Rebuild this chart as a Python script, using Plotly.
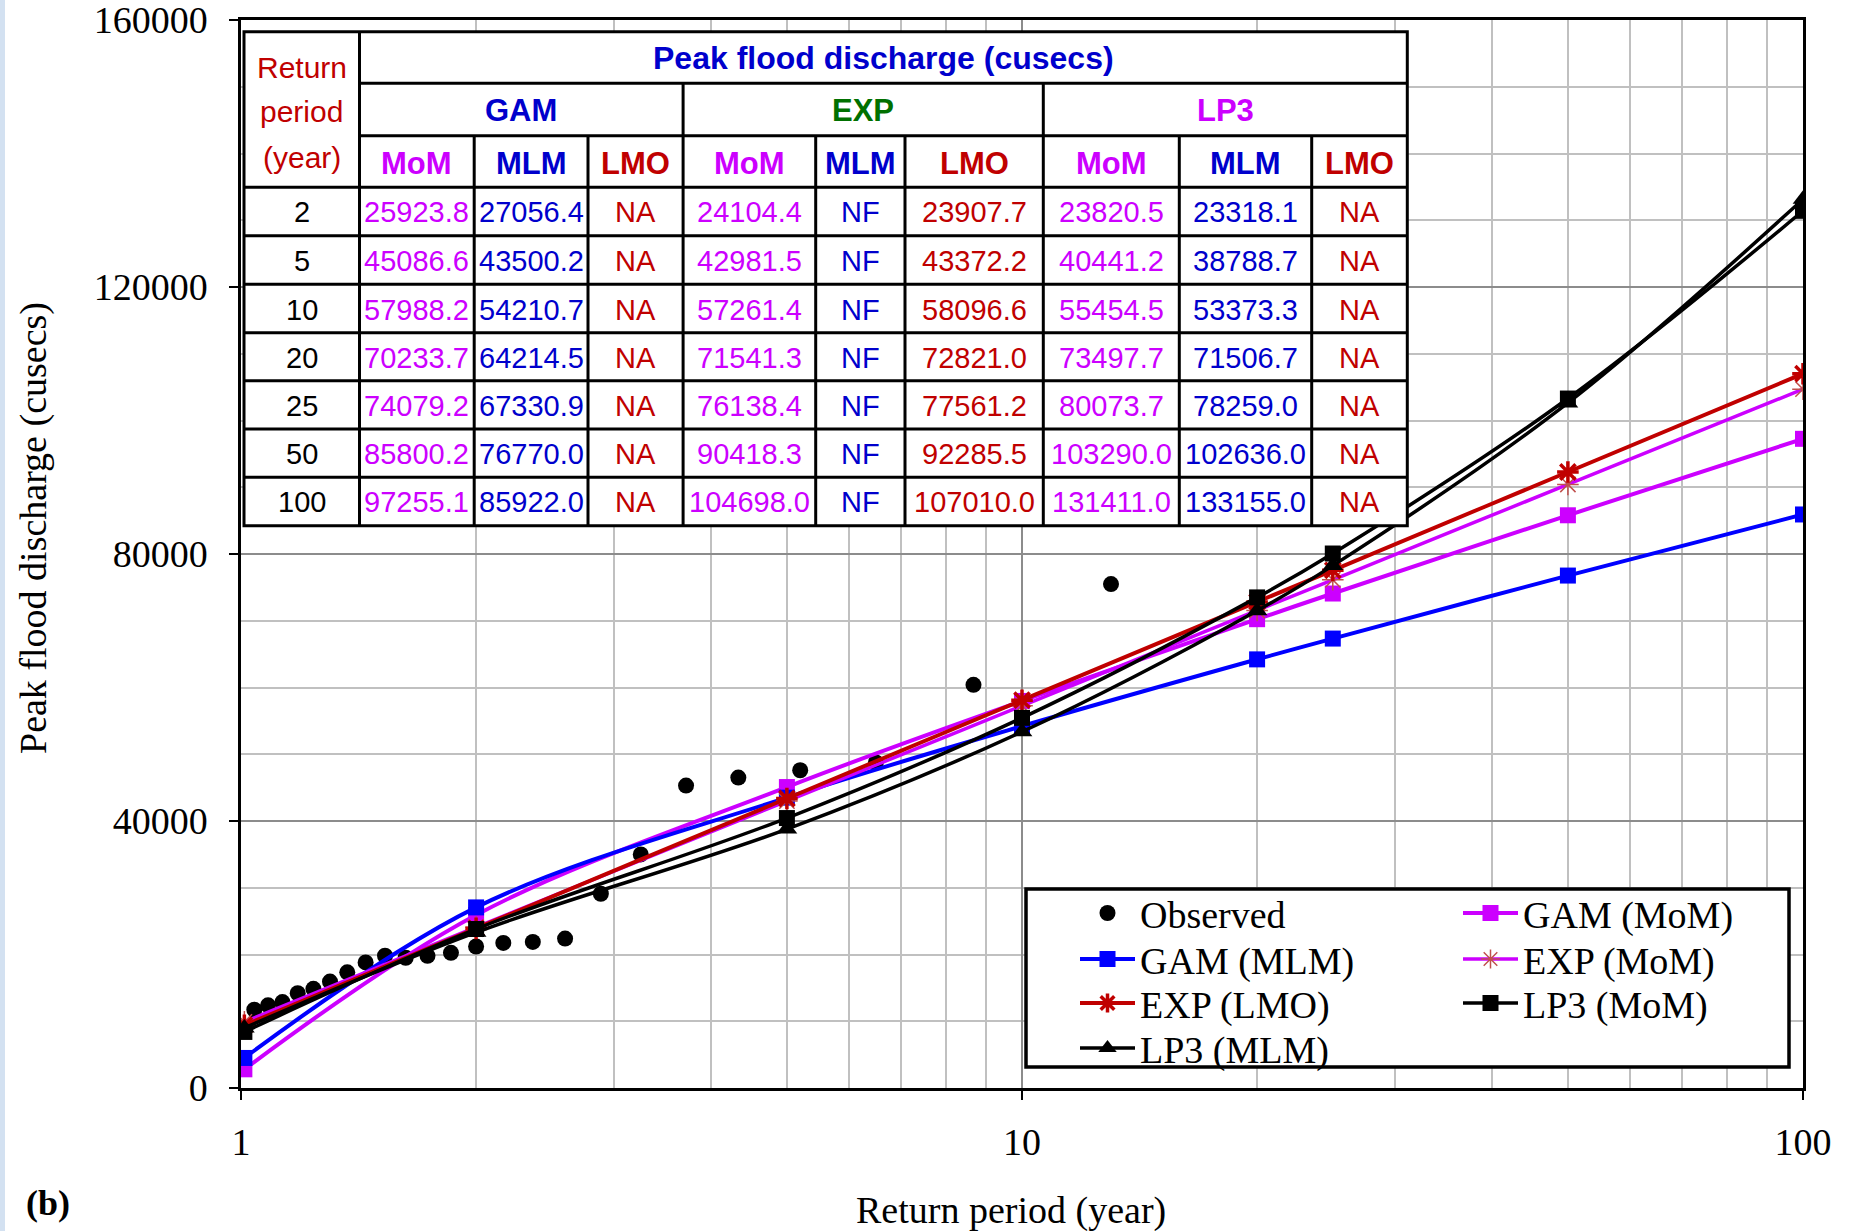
import plotly.graph_objects as go

# ---------------------------------------------------------------------------
# Data
# ---------------------------------------------------------------------------
# Return periods (years) at which each fitted distribution is evaluated
T_fit = [1.01, 2, 5, 10, 20, 25, 50, 100]

# Fitted peak flood discharge (cusecs)
gam_mom = [2800, 25923.8, 45086.6, 57988.2, 70233.7, 74079.2, 85800.2, 97255.1]
gam_mlm = [4500, 27056.4, 43500.2, 54210.7, 64214.5, 67330.9, 76770.0, 85922.0]
exp_mom = [9900, 24104.4, 42981.5, 57261.4, 71541.3, 76138.4, 90418.3, 104698.0]
exp_lmo = [9400, 23907.7, 43372.2, 58096.6, 72821.0, 77561.2, 92285.5, 107010.0]
lp3_mom = [8400, 23820.5, 40441.2, 55454.5, 73497.7, 80073.7, 103290.0, 131411.0]
lp3_mlm = [9000, 23318.1, 38788.7, 53373.3, 71506.7, 78259.0, 102636.0, 133155.0]

# Observed annual peaks with their plotting-position return periods
obs_T = [1.04, 1.083, 1.13, 1.182, 1.238, 1.3, 1.368, 1.444, 1.529, 1.625,
         1.733, 1.857, 2.0, 2.167, 2.364, 2.6, 2.889, 3.25, 3.714, 4.333,
         5.2, 6.5, 8.667, 13.0]
obs_Q = [11740, 12380, 12870, 14200, 14860, 15940, 17330, 18810, 19810, 19510,
         19800, 20250, 21200, 21740, 21890, 22380, 29100, 35000, 45300, 46500,
         47600, 48780, 60400, 75500]

# Axis ticks
y_ticks = [0, 40000, 80000, 120000, 160000]
x_ticks = [1, 10, 100]

# Table content
table_T = T_fit[1:]
distributions = ["GAM", "EXP", "LP3"]
methods = ["MoM", "MLM", "LMO"]
# per distribution: MoM, MLM, LMO columns (string = estimate not available)
table_columns = {
    "GAM": [gam_mom[1:], gam_mlm[1:], "NA"],
    "EXP": [exp_mom[1:], "NF", exp_lmo[1:]],
    "LP3": [lp3_mom[1:], lp3_mlm[1:], "NA"],
}

# ---------------------------------------------------------------------------
# Styling
# ---------------------------------------------------------------------------
MAGENTA = "#CC00FF"
BLUE = "#0000FF"
DARK_BLUE = "#0000CC"
RED = "#C00000"
GREEN = "#007000"
SALMON = "#C0504D"
SERIF = "Times New Roman, Liberation Serif, serif"
SANS = "Arial, Liberation Sans, sans-serif"

W, H = 1852, 1231
ML, MR, MT, MB = 241, 49, 20, 143
PW, PH = W - ML - MR, H - MT - MB


def px(x):
    return (x - ML) / PW


def py(y):
    return (H - MB - y) / PH


# legend slots: (column, row) inside the framed legend box
LEG_FONT = 38
LEG_ITEM_W = 55
leg_col_left = [1075, 1458]
leg_row_center = [913, 959, 1003, 1048]
leg_item_h = LEG_FONT * 1.3 + 3

legend_slots = {
    "Observed": (0, 0), "GAM (MoM)": (1, 0),
    "GAM (MLM)": (0, 1), "EXP (MoM)": (1, 1),
    "EXP (LMO)": (0, 2), "LP3 (MoM)": (1, 2),
    "LP3 (MLM)": (0, 3),
}
legend_ids = {}
legend_layout = {}
for i, (nm, (c, r)) in enumerate(legend_slots.items()):
    lid = "legend" if i == 0 else f"legend{i + 1}"
    legend_ids[nm] = lid
    legend_layout[lid] = dict(
        x=px(leg_col_left[c]), y=py(leg_row_center[r] - 5 - leg_item_h / 2),
        xanchor="left", yanchor="top", orientation="v",
        font=dict(family=SERIF, size=LEG_FONT, color="black"),
        bgcolor="rgba(0,0,0,0)", borderwidth=0, itemsizing="trace",
        itemwidth=LEG_ITEM_W,
    )

fig = go.Figure()

fig.add_trace(go.Scatter(
    x=obs_T, y=obs_Q, mode="markers", name="Observed", legend=legend_ids["Observed"],
    marker=dict(symbol="circle", size=16, color="black"),
))

series = [
    ("GAM (MoM)", gam_mom, MAGENTA, dict(symbol="square", size=16, color=MAGENTA), 4),
    ("GAM (MLM)", gam_mlm, BLUE, dict(symbol="square", size=16, color=BLUE), 4),
    ("EXP (MoM)", exp_mom, MAGENTA,
     dict(symbol="asterisk-open", size=18, color=SALMON, line=dict(color=SALMON, width=1.5)), 3.5),
    ("EXP (LMO)", exp_lmo, RED,
     dict(symbol="asterisk-open", size=18, color=RED, line=dict(color=RED, width=3.5)), 4),
    ("LP3 (MoM)", lp3_mom, "black", dict(symbol="square", size=16, color="black"), 3.5),
    ("LP3 (MLM)", lp3_mlm, "black", dict(symbol="triangle-up", size=18, color="black"), 3.5),
]
for name, vals, lc, mk, lw in series:
    fig.add_trace(go.Scatter(
        x=T_fit, y=vals, mode="lines+markers", name=name, legend=legend_ids[name],
        line=dict(color=lc, width=lw, shape="spline", smoothing=1),
        marker=mk,
    ))

# ---------------------------------------------------------------------------
# Legend frame
# ---------------------------------------------------------------------------
shapes = []
annotations = []

shapes.append(dict(type="rect", xref="paper", yref="paper", layer="above",
                   x0=px(1026), x1=px(1789), y0=py(889), y1=py(1067),
                   fillcolor="white", line=dict(color="black", width=3.5)))

# ---------------------------------------------------------------------------
# Inset table
# ---------------------------------------------------------------------------
col_edges = [244, 359.5, 474.2, 588, 683.1, 815.7, 905, 1043.3, 1179.3, 1311.7, 1407.3]
row_edges = [31.7, 83.3, 135.7, 187.3, 235.7, 284.3, 332.7, 380.7, 429, 477.3, 525.7]
TL = 3

shapes.append(dict(type="rect", xref="paper", yref="paper", layer="above",
                   x0=px(col_edges[0]), x1=px(col_edges[-1]),
                   y0=py(row_edges[0]), y1=py(row_edges[-1]),
                   fillcolor="white", line=dict(color="black", width=TL)))


def hline(y, xa, xb):
    shapes.append(dict(type="line", xref="paper", yref="paper", layer="above",
                       x0=px(xa), x1=px(xb), y0=py(y), y1=py(y),
                       line=dict(color="black", width=TL)))


def vline(x, ya, yb):
    shapes.append(dict(type="line", xref="paper", yref="paper", layer="above",
                       x0=px(x), x1=px(x), y0=py(ya), y1=py(yb),
                       line=dict(color="black", width=TL)))


hline(row_edges[1], col_edges[1], col_edges[-1])
hline(row_edges[2], col_edges[1], col_edges[-1])
for r in row_edges[3:-1]:
    hline(r, col_edges[0], col_edges[-1])
vline(col_edges[1], row_edges[0], row_edges[-1])
for c in (col_edges[4], col_edges[7]):
    vline(c, row_edges[1], row_edges[-1])
for c in (col_edges[2], col_edges[3], col_edges[5], col_edges[6], col_edges[8], col_edges[9]):
    vline(c, row_edges[2], row_edges[-1])


def text(x, y, s, color, size=29, bold=False, family=SANS, angle=0):
    annotations.append(dict(
        xref="paper", yref="paper", x=px(x), y=py(y), text=f"<b>{s}</b>" if bold else s,
        showarrow=False, xanchor="center", yanchor="middle", textangle=angle,
        font=dict(family=family, size=size, color=color)))


def mid(a, b):
    return (a + b) / 2


# header block
for line_txt, yc in zip(["Return", "period", "(year)"], [67, 112, 157]):
    text(mid(col_edges[0], col_edges[1]), yc, line_txt, RED, size=30)
text(mid(col_edges[1], col_edges[-1]), mid(row_edges[0], row_edges[1]) + 1,
     "Peak flood discharge (cusecs)", DARK_BLUE, size=32, bold=True)
dist_colors = {"GAM": DARK_BLUE, "EXP": GREEN, "LP3": MAGENTA}
method_colors = {"MoM": MAGENTA, "MLM": DARK_BLUE, "LMO": RED}
for d_i, dist in enumerate(distributions):
    c0 = 1 + 3 * d_i
    text(mid(col_edges[c0], col_edges[c0 + 3]), mid(row_edges[1], row_edges[2]) + 1,
         dist, dist_colors[dist], size=31, bold=True)
    for m_i, meth in enumerate(methods):
        text(mid(col_edges[c0 + m_i], col_edges[c0 + m_i + 1]), mid(row_edges[2], row_edges[3]) + 2,
             meth, method_colors[meth], size=31, bold=True)

# body
for r_i, tp in enumerate(table_T):
    yc = mid(row_edges[3 + r_i], row_edges[4 + r_i]) + 1
    text(mid(col_edges[0], col_edges[1]), yc, f"{tp:g}", "black")
    for d_i, dist in enumerate(distributions):
        for m_i, meth in enumerate(methods):
            c = 1 + 3 * d_i + m_i
            col = table_columns[dist][m_i]
            s = col if isinstance(col, str) else f"{col[r_i]:.1f}"
            tcolor = RED if s == "NA" else (DARK_BLUE if s == "NF" else method_colors[meth])
            text(mid(col_edges[c], col_edges[c + 1]), yc, s, tcolor)

# ---------------------------------------------------------------------------
# Axis titles and panel label
# ---------------------------------------------------------------------------
text(33, 528, "Peak flood discharge (cusecs)", "black", size=38, family=SERIF, angle=-90)
text(1011, 1210, "Return period (year)", "black", size=38, family=SERIF)
text(48, 1203, "(b)", "black", size=36, bold=True, family=SERIF)

# thin page-edge strip on the far left
shapes.append(dict(type="rect", xref="paper", yref="paper", layer="below",
                   x0=px(0), x1=px(5), y0=py(H), y1=py(0),
                   fillcolor="#D3E1F1", line=dict(width=0)))

fig.update_layout(
    width=W, height=H,
    margin=dict(l=ML, r=MR, t=MT, b=MB, pad=0, autoexpand=False),
    paper_bgcolor="white", plot_bgcolor="white",
    showlegend=True,
    xaxis=dict(
        type="log", range=[0, 2], tickmode="array", tickvals=x_ticks,
        ticktext=[str(v) for v in x_ticks], automargin=False,
        showline=True, linecolor="black", linewidth=2.5, mirror=True,
        ticks="outside", ticklen=9, tickwidth=2, tickcolor="black",
        ticklabelstandoff=10, ticklabeloverflow="allow",
        tickfont=dict(family=SERIF, size=38, color="black"),
        showgrid=True, gridcolor="#8C8C8C", gridwidth=2,
        minor=dict(dtick="D1", showgrid=True, gridcolor="#C0C0C0", gridwidth=2, ticks=""),
        zeroline=False,
    ),
    yaxis=dict(
        range=[0, 160000], tickmode="array", tickvals=y_ticks,
        ticktext=[str(v) for v in y_ticks], automargin=False,
        showline=True, linecolor="black", linewidth=2.5, mirror=True,
        ticks="outside", ticklen=9, tickwidth=2, tickcolor="black",
        ticklabelstandoff=14, ticklabeloverflow="allow",
        tickfont=dict(family=SERIF, size=38, color="black"),
        showgrid=True, gridcolor="#8C8C8C", gridwidth=2,
        minor=dict(dtick=10000, showgrid=True, gridcolor="#C0C0C0", gridwidth=2, ticks=""),
        zeroline=False,
    ),
    shapes=shapes,
    annotations=annotations,
    **legend_layout,
)

fig.write_html("out.html")
